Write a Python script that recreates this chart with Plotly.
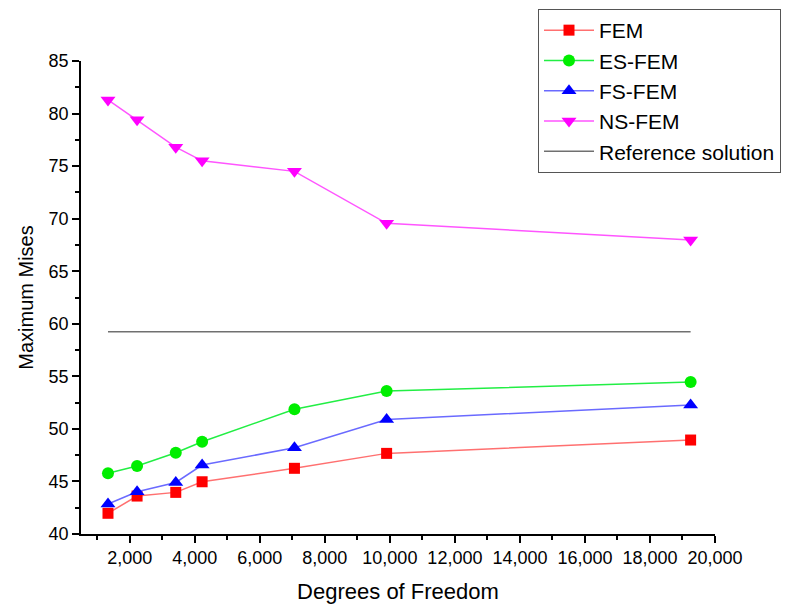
import plotly.graph_objects as go

dof = [1330, 2225, 3415, 4225, 7065, 9900, 19250]
fem = [41.97, 43.61, 43.96, 44.97, 46.25, 47.67, 48.94]
es_fem = [45.77, 46.47, 47.73, 48.78, 51.86, 53.6, 54.46]
fs_fem = [42.85, 44.02, 44.9, 46.56, 48.2, 50.9, 52.27]
ns_fem = [81.3, 79.4, 76.8, 75.5, 74.5, 69.56, 67.97]
ref_x = [dof[0], dof[-1]]
ref_y = [59.25, 59.25]

FONT = "Arial, Liberation Sans, sans-serif"

fig = go.Figure()
series = [
    ("FEM", fem, "#ff0000", "#ff7070", "square", 11),
    ("ES-FEM", es_fem, "#00ee00", "#22ee44", "circle", 12),
    ("FS-FEM", fs_fem, "#0000ff", "#6a6aff", "triangle-up", 13),
    ("NS-FEM", ns_fem, "#ff00ff", "#ff55ff", "triangle-down", 13),
]
for name, ys, mc, lc, sym, sz in series:
    fig.add_trace(go.Scatter(
        x=dof, y=ys, name=name, mode="lines+markers",
        line=dict(color=lc, width=1.5),
        marker=dict(color=mc, symbol=sym, size=sz, line=dict(width=0)),
    ))
fig.add_trace(go.Scatter(
    x=ref_x, y=ref_y, name="Reference solution", mode="lines",
    line=dict(color="#707070", width=1.5),
))

axis_common = dict(
    showline=True, linecolor="black", linewidth=1.5,
    ticks="outside", ticklen=7, tickwidth=1.5, tickcolor="black",
    showgrid=False, zeroline=False, mirror=False, tickangle=0,
    tickfont=dict(family=FONT, size=18, color="black"),
)

fig.update_layout(
    width=809, height=608,
    margin=dict(l=81, r=94, t=61, b=74, autoexpand=False),
    paper_bgcolor="white", plot_bgcolor="white",
    font=dict(family=FONT, color="black"),
    showlegend=True,
    legend=dict(
        x=(538 - 81) / 634, y=1 + (61 - 9) / 473, xanchor="left", yanchor="top",
        bordercolor="#555555", borderwidth=1, bgcolor="white",
        font=dict(family=FONT, size=21, color="black"),
        tracegroupgap=0, itemwidth=50,
    ),
    xaxis=dict(
        range=[500, 20000], dtick=2000, tick0=0, tickformat=",d",
        minor=dict(dtick=1000, ticks="outside", ticklen=4, tickwidth=1.5, tickcolor="black"),
        title=dict(text="Degrees of Freedom", font=dict(family=FONT, size=22, color="black"), standoff=16),
        **axis_common,
    ),
    yaxis=dict(
        range=[40, 85], dtick=5, tick0=40,
        minor=dict(dtick=2.5, ticks="outside", ticklen=4, tickwidth=1.5, tickcolor="black"),
        title=dict(text="Maximum Mises", font=dict(family=FONT, size=20, color="black"), standoff=10),
        **axis_common,
    ),
)

fig.write_html("out.html")
